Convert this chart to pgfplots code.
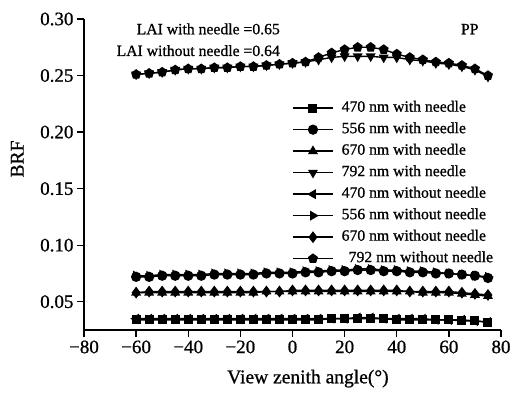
\documentclass[border=0pt]{standalone}
\usepackage{fontspec}
\setmainfont{Liberation Serif}[FakeBold=0.8]
\usepackage{pgfplots}
\usepackage{pgfplotstable}
\pgfplotsset{compat=1.18}
\pgfplotstableread{
a    w470 w556 w670 w792 n470 n556 n670 n792
-60  .034 .072 .058 .251 .035 .073 .058 .251
-55  .034 .072 .058 .252 .035 .073 .059 .252
-50  .034 .073 .058 .253 .035 .074 .059 .253
-45  .034 .073 .058 .255 .035 .074 .059 .255
-40  .034 .073 .058 .256 .035 .074 .059 .256
-35  .034 .073 .058 .256 .035 .074 .059 .256
-30  .034 .074 .058 .257 .035 .075 .059 .257
-25  .034 .074 .058 .257 .035 .075 .059 .257
-20  .034 .074 .058 .258 .035 .075 .059 .258
-15  .034 .074 .058 .258 .035 .075 .059 .258
-10  .034 .075 .059 .259 .035 .076 .059 .259
-5   .034 .075 .059 .260 .035 .076 .059 .260
0    .034 .075 .059 .261 .035 .076 .060 .261
5    .034 .076 .059 .262 .035 .077 .060 .262
10   .034 .076 .059 .264 .035 .077 .060 .266
15   .035 .077 .059 .266 .035 .078 .060 .270
20   .035 .077 .059 .267 .035 .078 .060 .273
25   .035 .078 .059 .267 .036 .079 .060 .275
30   .035 .078 .059 .267 .036 .079 .060 .275
35   .035 .077 .059 .266 .035 .078 .060 .273
40   .034 .077 .059 .266 .035 .078 .060 .269
45   .034 .076 .059 .264 .035 .077 .059 .266
50   .034 .076 .058 .263 .035 .077 .059 .264
55   .034 .075 .058 .261 .034 .076 .059 .262
60   .034 .075 .058 .260 .034 .075 .059 .261
65   .033 .074 .057 .258 .034 .074 .058 .259
70   .033 .073 .056 .255 .033 .073 .057 .256
75   .032 .071 .055 .249 .032 .072 .056 .250
}\brf
\begin{document}
\begin{tikzpicture}
\useasboundingbox (-84pt,-63pt) rectangle (429pt,330pt);
\begin{axis}[
  at={(0pt,0pt)}, anchor=south west,
  scale only axis, width=417pt, height=311pt,
  xmin=-80, xmax=80, ymin=0.025, ymax=0.30,
  axis x line*=bottom, axis y line*=left,
  axis line style={line width=1.3pt},
  tick align=outside, major tick length=7pt,
  tick style={line width=1.3pt, black},
  xtick={-80,-60,-40,-20,0,20,40,60,80},
  xticklabels={−80,−60,−40,−20,0,20,40,60,80},
  ytick={0.05,0.10,0.15,0.20,0.25,0.30},
  yticklabels={0.05,0.10,0.15,0.20,0.25,0.30},
  tick label style={font=\fontsize{19}{22}\selectfont},
  xlabel={View zenith angle(°)},
  ylabel={BRF},
  label style={font=\fontsize{19.5}{22}\selectfont},
  xlabel style={at={(axis description cs:0.537,-0.1714)}, anchor=base},
  ylabel style={at={(axis description cs:-0.16,0.55)}, anchor=center},
  legend style={at={(axis description cs:0.499,0.738)}, anchor=north west,
    draw=none, fill=none, inner sep=0pt, row sep=6.5pt,
    font=\fontsize{15.7}{18}\selectfont,
    nodes={inner sep=0pt, text height=11pt, text depth=4pt},
    /tikz/every odd column/.append style={column sep=8pt}},
  legend cell align=left,
  legend image code/.code={\draw[mark repeat=2,mark phase=2] plot coordinates {(0pt,0pt) (20pt,0pt) (40pt,0pt)};},
  every axis plot/.append style={black, line width=1.4pt, mark size=4.4pt, mark options={solid, fill=black}},
]
\addplot[mark=square*, mark size=3.8pt] table[x=a,y=w470] {\brf};
\addlegendentry{470 nm with needle}
\addplot[mark=*] table[x=a,y=w556] {\brf};
\addlegendentry{556 nm with needle}
\addplot[mark=triangle*] table[x=a,y=w670] {\brf};
\addlegendentry{670 nm with needle}
\addplot[mark=triangle*, mark options={rotate=180}] table[x=a,y=w792] {\brf};
\addlegendentry{792 nm with needle}
\addplot[mark=triangle*, mark options={rotate=90}] table[x=a,y=n470] {\brf};
\addlegendentry{470 nm without needle}
\addplot[mark=triangle*, mark options={rotate=-90}] table[x=a,y=n556] {\brf};
\addlegendentry{556 nm without needle}
\addplot[mark=diamond*, mark size=4.8pt] table[x=a,y=n670] {\brf};
\addlegendentry{670 nm without needle}
\addplot[mark=pentagon*] table[x=a,y=n792] {\brf};
\addlegendentry{\hspace{7pt}792 nm without needle}
\node[anchor=base east, font=\fontsize{15.7}{18}\selectfont] at (axis cs:-3.5,0.2865) {LAI with needle =0.65};
\node[anchor=base east, font=\fontsize{15.7}{18}\selectfont] at (axis cs:-3.5,0.2673) {LAI without needle =0.64};
\node[anchor=base west, font=\fontsize{15.7}{18}\selectfont] at (axis cs:63.3,0.2865) {PP};
\end{axis}
\end{tikzpicture}
\end{document}
